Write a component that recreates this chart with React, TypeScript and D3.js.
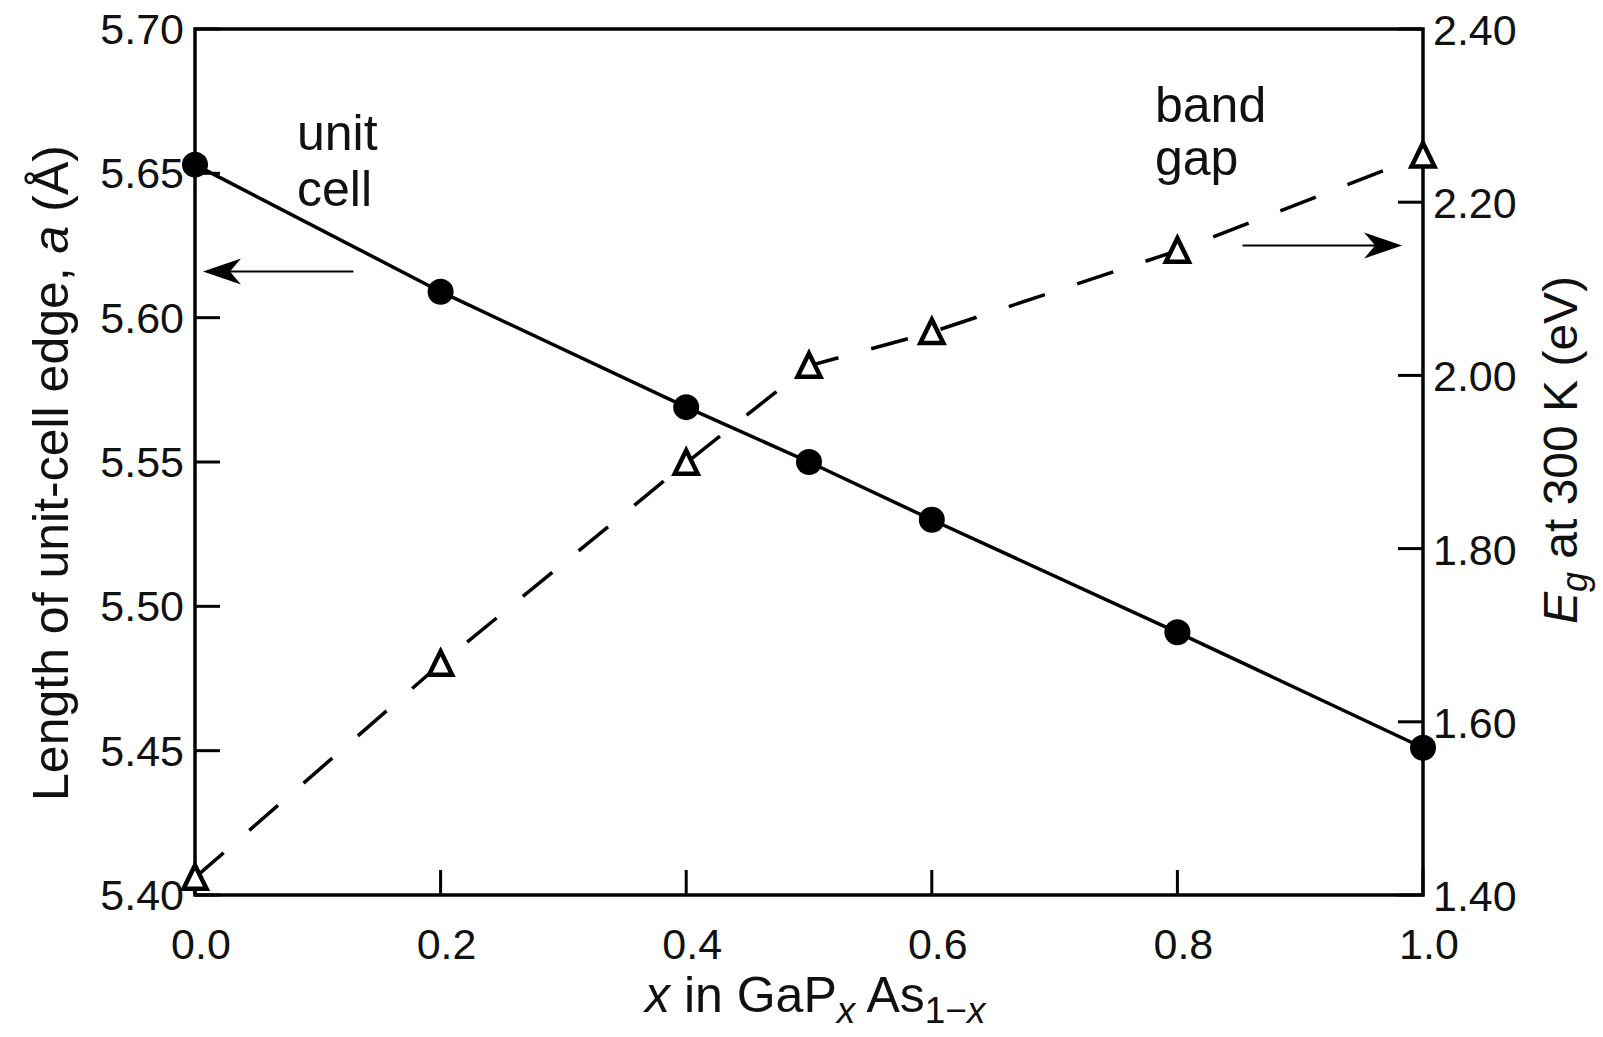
import React from "react";
import * as d3 from "d3";

// x in GaP(x)As(1-x)
const xValues = [0, 0.2, 0.4, 0.5, 0.6, 0.8, 1.0];
// unit cell edge a (Å), left axis
const cellEdge = [5.653, 5.609, 5.569, 5.55, 5.53, 5.491, 5.451];
// band gap Eg at 300 K (eV), right axis
const bandGap = [1.42, 1.667, 1.899, 2.011, 2.05, 2.144, 2.254];

const xTicks = [0, 0.2, 0.4, 0.6, 0.8, 1.0];
const leftTicks = [5.4, 5.45, 5.5, 5.55, 5.6, 5.65, 5.7];
const rightTicks = [1.4, 1.6, 1.8, 2.0, 2.2, 2.4];

const W = 1603;
const H = 1037;
const margin = { top: 29, right: 180, bottom: 142, left: 195 };
const FONT = "'Liberation Sans', Arial, Helvetica, sans-serif";

export default function App() {
  const x0 = margin.left;
  const x1 = W - margin.right;
  const y0 = H - margin.bottom;
  const y1 = margin.top;

  const x = d3.scaleLinear().domain([0, 1]).range([x0, x1]);
  const yLeft = d3.scaleLinear().domain([5.4, 5.7]).range([y0, y1]);
  const yRight = d3.scaleLinear().domain([1.4, 2.4]).range([y0, y1]);

  const cellPts = xValues.map((d, i) => [x(d), yLeft(cellEdge[i])] as [number, number]);
  const gapPts = xValues.map((d, i) => [x(d), yRight(bandGap[i])] as [number, number]);
  const line = d3.line();

  const fmt2 = d3.format(".2f");
  const fmt1 = d3.format(".1f");
  const tickLen = 25;

  // barbed arrow head, dir = -1 points left, +1 points right
  const arrow = (tx: number, ty: number, dir: number, fromX: number) => {
    const L = 38;
    const hw = 13;
    const head = `M${tx},${ty} L${tx - dir * L},${ty - hw} L${tx - dir * (L - 11)},${ty} L${tx - dir * L},${ty + hw} Z`;
    return (
      <g>
        <line x1={fromX} x2={tx - dir * 20} y1={ty} y2={ty} stroke="#000" strokeWidth={2} />
        <path d={head} fill="#000" />
      </g>
    );
  };

  const tri = (cx: number, cy: number, key: number) => (
    <path
      key={key}
      d={`M${cx},${cy - 12.5} L${cx + 11.5},${cy + 11} L${cx - 11.5},${cy + 11} Z`}
      fill="#fff"
      stroke="#000"
      strokeWidth={4.5}
      strokeLinejoin="miter"
    />
  );

  return (
    <svg
      width={W}
      height={H}
      style={{ position: "absolute", left: 0, top: 0, background: "#fff" }}
      fontFamily={FONT}
    >
      <rect width={W} height={H} fill="#fff" />

      {/* dashed band gap line */}
      <path
        d={line(gapPts) || ""}
        fill="none"
        stroke="#000"
        strokeWidth={3.5}
        strokeDasharray="38 34"
      />

      {/* unit cell line */}
      <path d={line(cellPts) || ""} fill="none" stroke="#000" strokeWidth={3.5} />

      {/* frame */}
      <rect
        x={x0}
        y={y1}
        width={x1 - x0}
        height={y0 - y1}
        fill="none"
        stroke="#000"
        strokeWidth={3.5}
      />

      {/* left ticks */}
      {leftTicks.map((t) => (
        <g key={"l" + t}>
          <line x1={x0} x2={x0 + tickLen} y1={yLeft(t)} y2={yLeft(t)} stroke="#000" strokeWidth={3} />
          <text x={x0 - 11} y={yLeft(t) + 15} textAnchor="end" fontSize={43} fill="#111">
            {fmt2(t)}
          </text>
        </g>
      ))}

      {/* right ticks */}
      {rightTicks.map((t) => (
        <g key={"r" + t}>
          <line x1={x1 - tickLen} x2={x1} y1={yRight(t)} y2={yRight(t)} stroke="#000" strokeWidth={3} />
          <text x={x1 + 10} y={yRight(t) + 16} textAnchor="start" fontSize={43} fill="#111">
            {fmt2(t)}
          </text>
        </g>
      ))}

      {/* bottom ticks */}
      {xTicks.map((t) => (
        <g key={"x" + t}>
          <line x1={x(t)} x2={x(t)} y1={y0} y2={y0 - tickLen} stroke="#000" strokeWidth={3} />
          <text x={x(t) + 6} y={y0 + 64} textAnchor="middle" fontSize={43} fill="#111">
            {fmt1(t)}
          </text>
        </g>
      ))}

      {/* markers */}
      {cellPts.map(([cx, cy], i) => (
        <circle key={"c" + i} cx={cx} cy={cy} r={13} fill="#000" />
      ))}
      {gapPts.map(([cx, cy], i) => tri(cx, cy, i))}

      {/* annotations */}
      <text x={297} y={150} fontSize={50} fill="#111">unit</text>
      <text x={297} y={206} fontSize={50} fill="#111">cell</text>
      <text x={1155} y={122} fontSize={50} fill="#111">band</text>
      <text x={1155} y={175} fontSize={50} fill="#111">gap</text>
      {arrow(x(0.0065), yLeft(5.616), -1, x(0.129))}
      {arrow(x(0.983), yRight(2.15), 1, x(0.853))}

      {/* left axis title */}
      <text
        transform={`translate(68, 473) rotate(-90)`}
        textAnchor="middle"
        fontSize={50}
        fill="#111"
      >
        Length of unit-cell edge, <tspan fontStyle="italic">a</tspan> (Å)
      </text>

      {/* right axis title */}
      <text
        transform={`translate(1577, 450) rotate(-90)`}
        textAnchor="middle"
        fontSize={48}
        fill="#111"
      >
        <tspan fontStyle="italic">E</tspan>
        <tspan fontStyle="italic" fontSize={36} dy={10}>g</tspan>
        <tspan dy={-10}>{"  at 300 K (eV)"}</tspan>
      </text>

      {/* x axis title */}
      <text x={645} y={1012} fontSize={50} fill="#111">
        <tspan fontStyle="italic">x</tspan>
        <tspan> in GaP</tspan>
        <tspan fontStyle="italic" fontSize={37} dy={11}>x</tspan>
        <tspan dy={-11}> As</tspan>
        <tspan fontSize={37} dy={11}>1−</tspan>
        <tspan fontStyle="italic" fontSize={37}>x</tspan>
      </text>
    </svg>
  );
}
